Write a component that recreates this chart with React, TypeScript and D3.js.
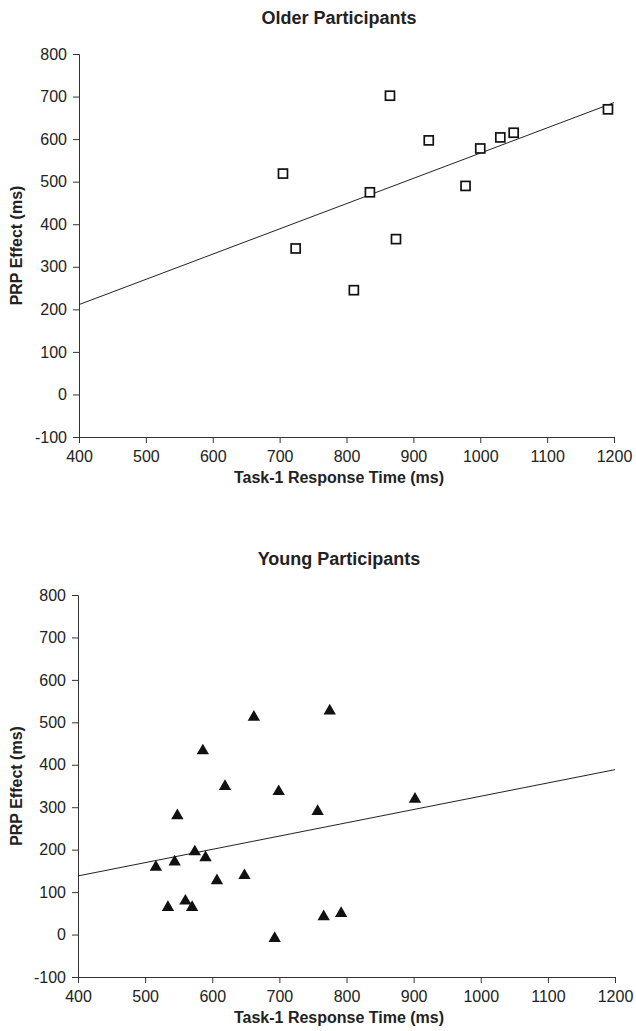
import React, { useEffect, useRef } from 'react';
import * as d3 from 'd3';

// Older participants: Task-1 RT (ms) and PRP effect (ms)
const olderRT = [705, 724, 811, 835, 865, 874, 923, 978, 1000, 1030, 1050, 1191];
const olderPRP = [519, 343, 245, 475, 702, 365, 597, 490, 578, 604, 615, 670];

// Young participants
const youngRT = [
  516, 534, 544, 548, 560, 570, 574, 586, 590, 607, 619, 648, 662, 693, 699,
  757, 766, 775, 792, 902,
];
const youngPRP = [
  159, 64, 171, 280, 79, 64, 195, 433, 181, 127, 349, 139, 512, -9, 337, 290,
  42, 527, 50, 319,
];

const xTicks = [400, 500, 600, 700, 800, 900, 1000, 1100, 1200];
const yTicks = [-100, 0, 100, 200, 300, 400, 500, 600, 700, 800];

const FONT = '"Liberation Sans", Arial, sans-serif';
const TEXT = '#222';

const fit = (xs: number[], ys: number[]) => {
  const mx = d3.mean(xs) as number;
  const my = d3.mean(ys) as number;
  let sxy = 0;
  let sxx = 0;
  xs.forEach((x, i) => {
    sxy += (x - mx) * (ys[i] - my);
    sxx += (x - mx) * (x - mx);
  });
  const slope = sxy / sxx;
  return (x: number) => my + slope * (x - mx);
};

const drawPanel = (svg, opts) => {
  const { top, bottom, left, right, title, xs, ys, marker } = opts;

  const xScale = d3.scaleLinear().domain([400, 1200]).range([left, right]);
  const yScale = d3.scaleLinear().domain([-100, 800]).range([bottom, top]);

  const g = svg.append('g');

  g.append('text')
    .attr('x', 339)
    .attr('y', top - 30)
    .attr('text-anchor', 'middle')
    .style('font-family', FONT)
    .style('font-weight', 'bold')
    .style('font-size', '18px')
    .style('fill', TEXT)
    .text(title);

  const yAxis = d3
    .axisLeft(yScale)
    .tickValues(yTicks)
    .tickSize(6)
    .tickPadding(6)
    .tickFormat((d) => String(d));

  const yG = g
    .append('g')
    .attr('transform', `translate(${left},0)`)
    .call(yAxis);

  const xAxis = d3
    .axisBottom(xScale)
    .tickValues(xTicks)
    .tickSize(6)
    .tickPadding(8)
    .tickFormat((d) => String(d));

  const xG = g
    .append('g')
    .attr('transform', `translate(0,${bottom})`)
    .call(xAxis);

  [xG, yG].forEach((a) => {
    a.select('.domain').attr('stroke', '#333');
    a.selectAll('.tick line').attr('stroke', '#333');
    a.selectAll('.tick text')
      .style('font-family', FONT)
      .style('font-size', '16px')
      .style('fill', TEXT);
  });

  g.append('text')
    .attr('x', 339)
    .attr('y', bottom + 46)
    .attr('text-anchor', 'middle')
    .style('font-family', FONT)
    .style('font-weight', 'bold')
    .style('font-size', '16px')
    .style('fill', TEXT)
    .text('Task-1 Response Time (ms)');

  g.append('text')
    .attr('transform', `translate(22,${(top + bottom) / 2}) rotate(-90)`)
    .attr('text-anchor', 'middle')
    .style('font-family', FONT)
    .style('font-weight', 'bold')
    .style('font-size', '16px')
    .style('fill', TEXT)
    .text('PRP Effect (ms)');

  // least-squares trend line across the full x range
  const f = fit(xs, ys);
  const line = d3
    .line<number>()
    .x((d) => xScale(d))
    .y((d) => yScale(f(d)));

  g.append('path')
    .attr('d', line([400, 1200]))
    .attr('fill', 'none')
    .attr('stroke', '#222')
    .attr('stroke-width', 1);

  const pts = xs.map((x, i) => ({ x, y: ys[i] }));

  if (marker === 'square') {
    g.selectAll('rect.pt')
      .data(pts)
      .join('rect')
      .attr('class', 'pt')
      .attr('x', (d) => xScale(d.x) - 4.5)
      .attr('y', (d) => yScale(d.y) - 4.5)
      .attr('width', 9)
      .attr('height', 9)
      .attr('fill', 'white')
      .attr('stroke', '#111')
      .attr('stroke-width', 1.7);
  } else {
    const tri = d3.symbol().type(d3.symbolTriangle).size(66);
    g.selectAll('path.pt')
      .data(pts)
      .join('path')
      .attr('class', 'pt')
      .attr('d', tri)
      .attr('transform', (d) => `translate(${xScale(d.x)},${yScale(d.y)})`)
      .attr('fill', '#111');
  }
};

const App = () => {
  const ref = useRef(null);

  useEffect(() => {
    const root = d3.select(ref.current);
    root.selectAll('*').remove();

    const svg = root
      .append('svg')
      .attr('width', 636)
      .attr('height', 1031)
      .style('position', 'absolute')
      .style('left', 0)
      .style('top', 0)
      .style('background', 'white');

    drawPanel(svg, {
      top: 54,
      bottom: 437,
      left: 79,
      right: 614,
      title: 'Older Participants',
      xs: olderRT,
      ys: olderPRP,
      marker: 'square',
    });

    drawPanel(svg, {
      top: 595,
      bottom: 977,
      left: 78,
      right: 615,
      title: 'Young Participants',
      xs: youngRT,
      ys: youngPRP,
      marker: 'triangle',
    });
  }, []);

  return <div ref={ref}></div>;
};

export default App;
